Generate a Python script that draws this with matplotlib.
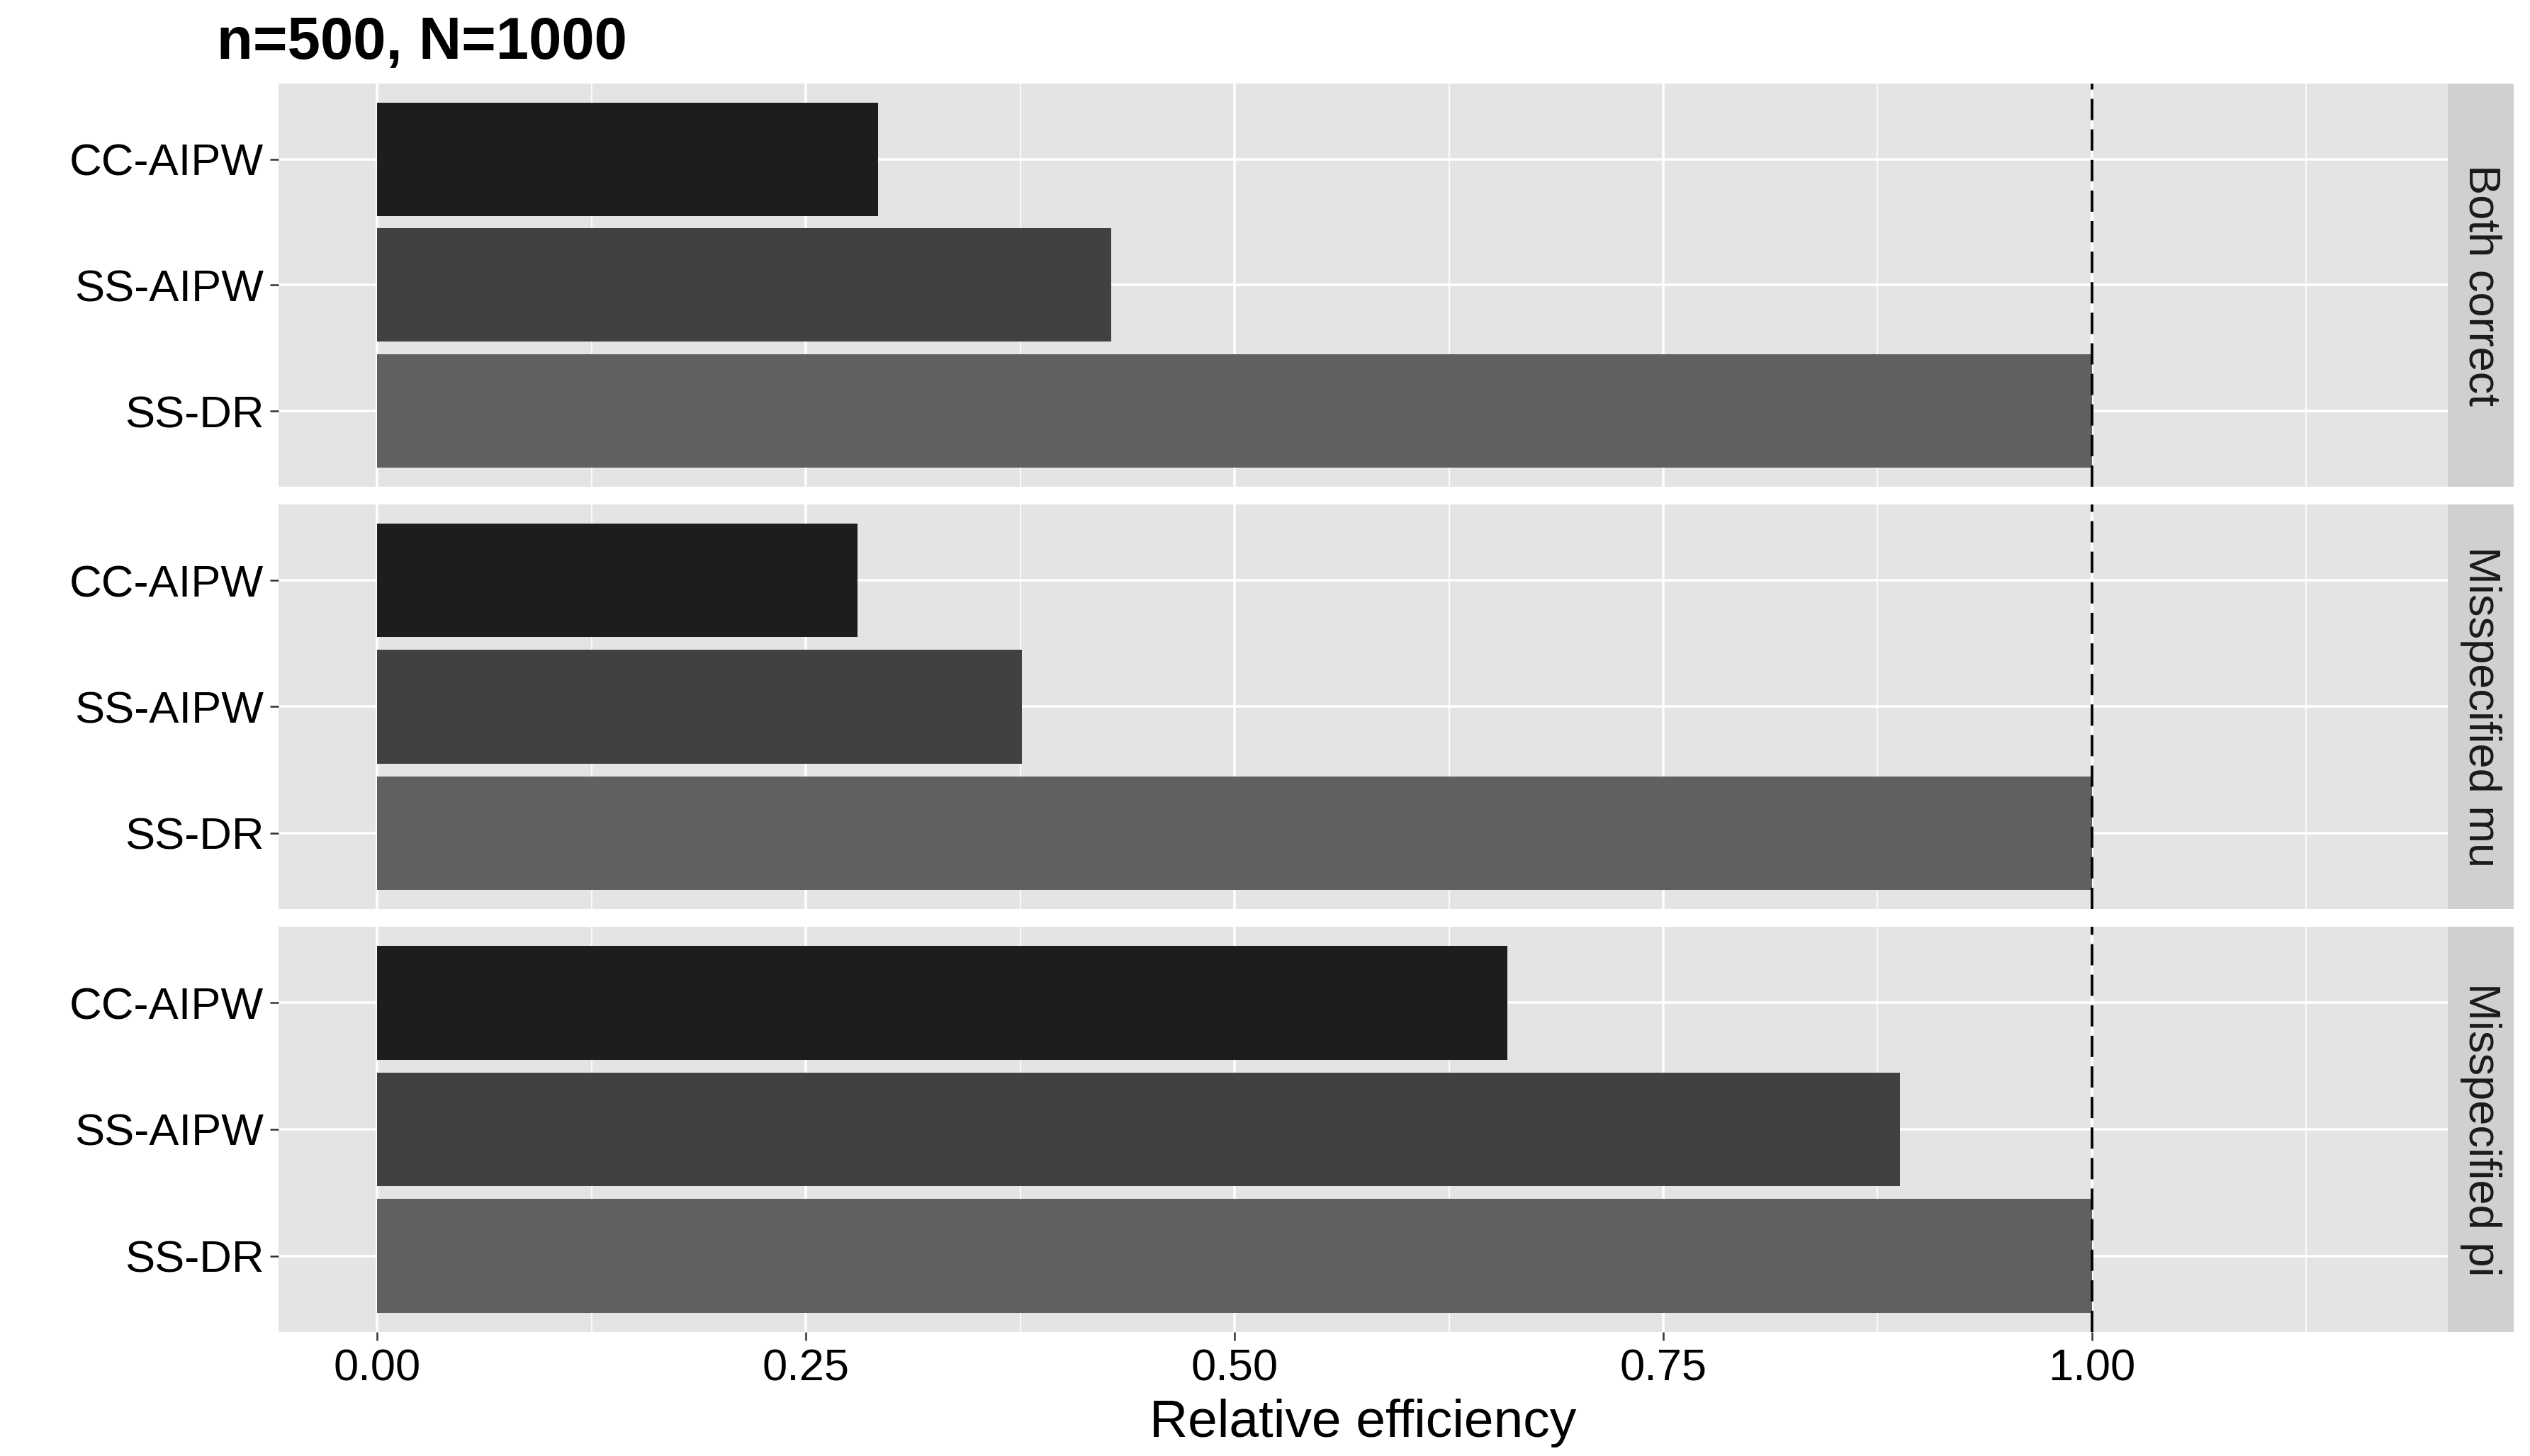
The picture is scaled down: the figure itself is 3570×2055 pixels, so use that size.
import matplotlib
matplotlib.use("Agg")
import matplotlib.pyplot as plt

plt.rcParams["font.family"] = ["Liberation Sans", "DejaVu Sans"]

# data
scenarios = ["Both correct", "Misspecified mu", "Misspecified pi"]
methods = ["CC-AIPW", "SS-AIPW", "SS-DR"]
cc_aipw = [0.292, 0.280, 0.659]
ss_aipw = [0.428, 0.376, 0.888]
ss_dr = [1.0, 1.0, 1.0]
ref_line = 1.0

bar_colors = ["#1d1d1d", "#414141", "#606060"]
ypos = [3, 2, 1]  # CC-AIPW on top

fig = plt.figure(figsize=(11.9, 6.85), dpi=300)

# panel rectangles (figure fractions)
left, width = 0.1101, 0.8574
strip_w = 0.0261
bottoms = [0.6657, 0.3757, 0.0852]
heights = [0.2769, 0.2778, 0.2783]

for i, scen in enumerate(scenarios):
    ax = fig.add_axes([left, bottoms[i], width, heights[i]])
    ax.set_facecolor("#E4E4E4")
    vals = [cc_aipw[i], ss_aipw[i], ss_dr[i]]
    ax.barh(ypos, vals, height=0.9, color=bar_colors, zorder=2)
    ax.axvline(ref_line, color="black", linewidth=0.9, dashes=(8.0, 3.5), zorder=3)

    ax.set_xlim(-0.0575, 1.2075)
    ax.set_ylim(0.4, 3.6)
    ax.set_xticks([0, 0.25, 0.5, 0.75, 1.0])
    ax.set_xticklabels(["0.00", "0.25", "0.50", "0.75", "1.00"])
    ax.set_xticks([0.125, 0.375, 0.625, 0.875, 1.125], minor=True)
    ax.set_yticks(ypos)
    ax.set_yticklabels(methods)

    ax.set_axisbelow(True)
    ax.grid(which="major", color="white", linewidth=0.85)
    ax.grid(which="minor", axis="x", color="white", linewidth=0.42)
    for s in ax.spines.values():
        s.set_visible(False)

    ax.tick_params(which="major", length=2.8, width=0.6, color="#333333",
                   labelsize=15.2, labelcolor="black")
    ax.tick_params(axis="y", pad=2.2)
    ax.tick_params(axis="x", pad=2.6)
    ax.tick_params(which="minor", length=0)
    if i < len(scenarios) - 1:
        ax.tick_params(axis="x", length=0, labelbottom=False)
    else:
        ax.set_xlabel("Relative efficiency", fontsize=18, labelpad=3)

    # facet strip
    sax = fig.add_axes([left + width, bottoms[i], strip_w, heights[i]])
    sax.set_facecolor("#D0D0D0")
    sax.set_xticks([])
    sax.set_yticks([])
    for s in sax.spines.values():
        s.set_visible(False)
    sax.text(0.5, 0.5, scen, rotation=-90, ha="center", va="center",
             fontsize=15.2, color="#1a1a1a", transform=sax.transAxes)

fig.text(0.0857, 0.9596, "n=500, N=1000", fontsize=20, fontweight="bold",
         va="baseline", ha="left")

fig.savefig("out.png", dpi=300)
plt.close(fig)
